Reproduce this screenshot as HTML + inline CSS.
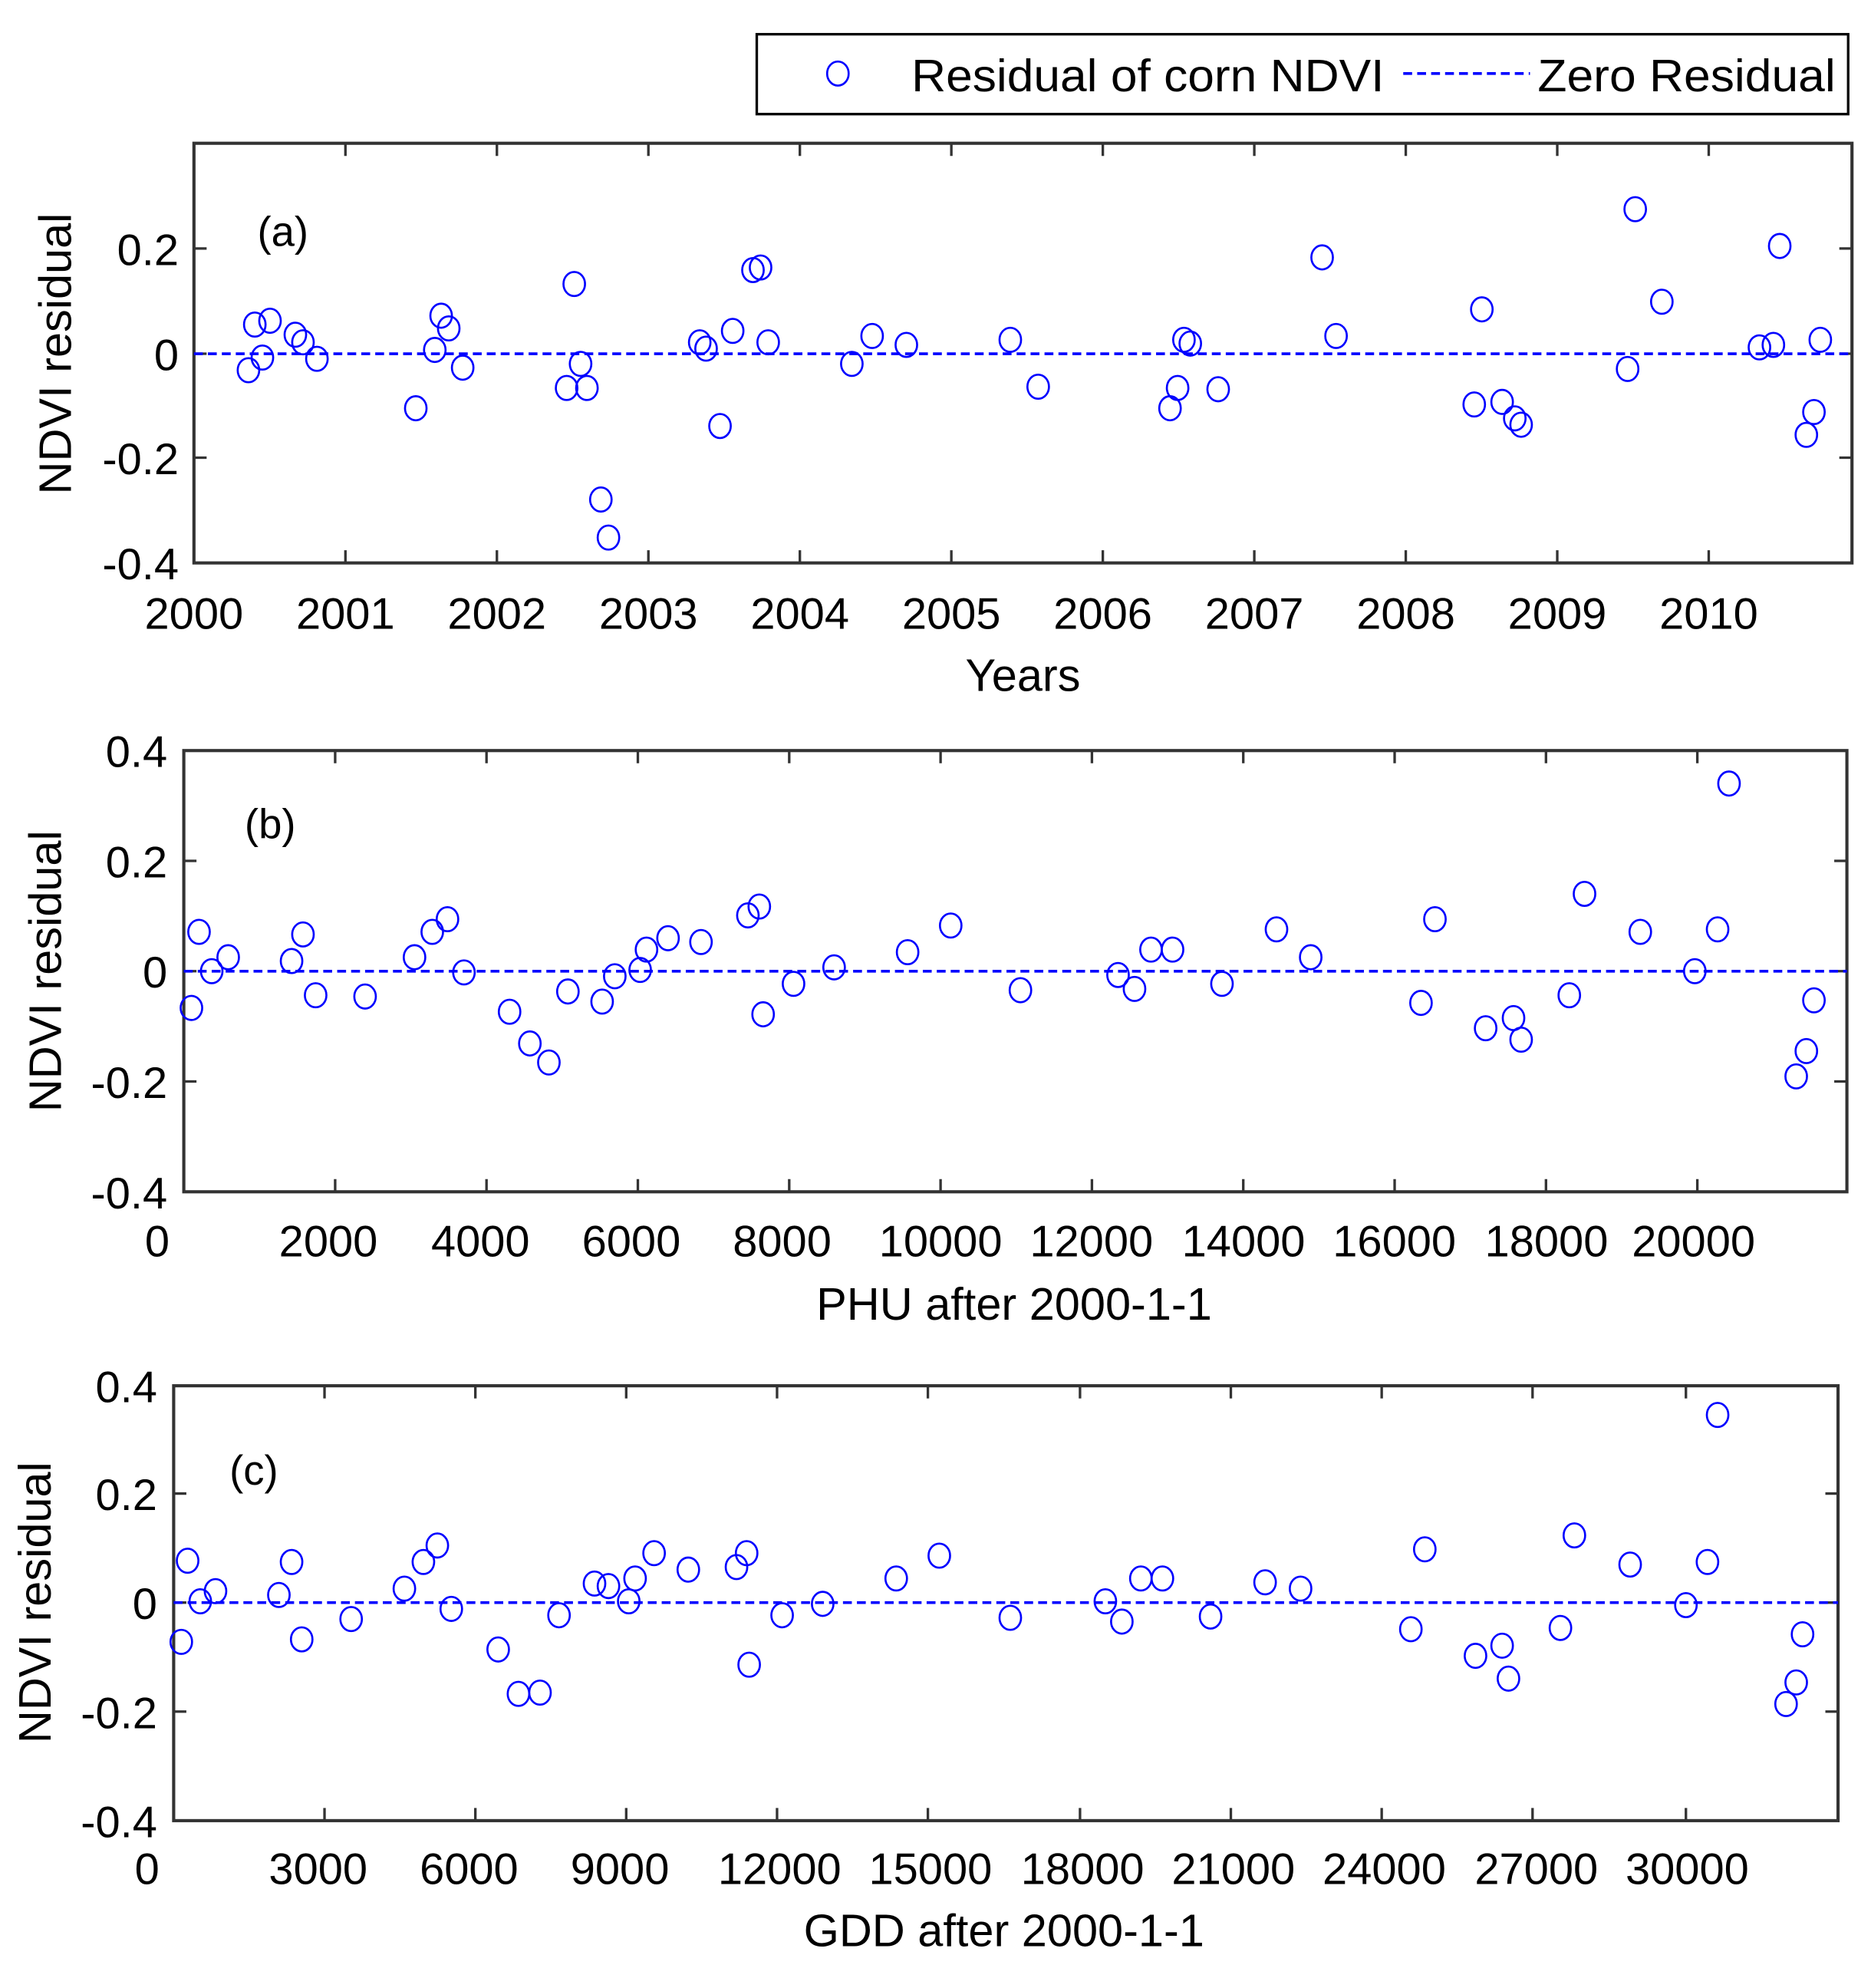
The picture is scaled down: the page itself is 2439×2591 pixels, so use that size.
<!DOCTYPE html>
<html><head><meta charset="utf-8"><style>
html,body{margin:0;padding:0;background:#fff;}
svg{display:block;}
text{font-family:"Liberation Sans",Arial,sans-serif;fill:#000;}
</style></head><body>
<svg width="2439" height="2591" viewBox="0 0 1476 1568" xmlns="http://www.w3.org/2000/svg">
<rect width="1476" height="1568" fill="#fff"/>
<!-- Legend -->
<rect x="597" y="27" width="861" height="63" fill="#fff" stroke="#000" stroke-width="2"/>
<ellipse cx="661" cy="58" rx="8.5" ry="9.5" fill="none" stroke="#0000ff" stroke-width="1.6"/>
<text x="719" y="72" font-size="36" textLength="373" lengthAdjust="spacingAndGlyphs">Residual of corn NDVI</text>
<line x1="1107" y1="58" x2="1207" y2="58" stroke="#0000ff" stroke-width="2.2" stroke-dasharray="7,4"/>
<text x="1213" y="72" font-size="36" textLength="235" lengthAdjust="spacingAndGlyphs">Zero Residual</text>

<g id="pa">
<rect x="153" y="113" width="1308" height="331" fill="none" stroke="#333" stroke-width="2.5"/>
<g stroke="#333" stroke-width="2">
<path d="M272.5 113v10M392 113v10M511.5 113v10M631 113v10M750.5 113v10M870 113v10M989.5 113v10M1109 113v10M1228.5 113v10M1348 113v10"/>
<path d="M272.5 444v-10M392 444v-10M511.5 444v-10M631 444v-10M750.5 444v-10M870 444v-10M989.5 444v-10M1109 444v-10M1228.5 444v-10M1348 444v-10"/>
<path d="M153 196h10M153 279h10M153 361h10M1461 196h-10M1461 279h-10M1461 361h-10"/>
</g>
<g font-size="35" text-anchor="end">
<text x="141" y="209">0.2</text><text x="141" y="292">0</text><text x="141" y="374">-0.2</text><text x="141" y="457">-0.4</text>
</g>
<g font-size="35" text-anchor="middle">
<text x="153" y="496">2000</text><text x="272.5" y="496">2001</text><text x="392" y="496">2002</text><text x="511.5" y="496">2003</text><text x="631" y="496">2004</text><text x="750.5" y="496">2005</text><text x="870" y="496">2006</text><text x="989.5" y="496">2007</text><text x="1109" y="496">2008</text><text x="1228.5" y="496">2009</text><text x="1348" y="496">2010</text>
<text x="807" y="545" font-size="36">Years</text>
</g>
<text x="0" y="0" font-size="36" text-anchor="middle" transform="translate(56,279) rotate(-90)">NDVI residual</text>
<text x="203" y="194" font-size="33">(a)</text>
<line x1="153" y1="279" x2="1461" y2="279" stroke="#0000ff" stroke-width="2.2" stroke-dasharray="7,4"/>
</g>

<g id="pb">
<rect x="145" y="592" width="1312" height="348" fill="none" stroke="#333" stroke-width="2.5"/>
<g stroke="#333" stroke-width="2">
<path d="M264.4 592v10M383.8 592v10M503.2 592v10M622.6 592v10M742 592v10M861.4 592v10M980.8 592v10M1100.2 592v10M1219.6 592v10M1339 592v10"/>
<path d="M264.4 940v-10M383.8 940v-10M503.2 940v-10M622.6 940v-10M742 940v-10M861.4 940v-10M980.8 940v-10M1100.2 940v-10M1219.6 940v-10M1339 940v-10"/>
<path d="M145 679h10M145 766h10M145 853h10M1457 679h-10M1457 766h-10M1457 853h-10"/>
</g>
<g font-size="35" text-anchor="end">
<text x="132" y="605">0.4</text><text x="132" y="692">0.2</text><text x="132" y="779">0</text><text x="132" y="866">-0.2</text><text x="132" y="953">-0.4</text>
</g>
<g font-size="35" text-anchor="middle">
<text x="124" y="991">0</text><text x="259" y="991">2000</text><text x="379" y="991">4000</text><text x="498" y="991">6000</text><text x="617" y="991">8000</text><text x="742" y="991">10000</text><text x="861" y="991">12000</text><text x="981" y="991">14000</text><text x="1100" y="991">16000</text><text x="1220" y="991">18000</text><text x="1336" y="991">20000</text>
<text x="800" y="1041" font-size="36">PHU after 2000-1-1</text>
</g>
<text font-size="36" text-anchor="middle" transform="translate(48,766) rotate(-90)">NDVI residual</text>
<text x="193" y="661" font-size="33">(b)</text>
<line x1="145" y1="766" x2="1457" y2="766" stroke="#0000ff" stroke-width="2.2" stroke-dasharray="7,4"/>
</g>

<g id="pc">
<rect x="137" y="1093" width="1313" height="343" fill="none" stroke="#333" stroke-width="2.5"/>
<g stroke="#333" stroke-width="2">
<path d="M256 1093v10M375 1093v10M494 1093v10M613 1093v10M732 1093v10M852 1093v10M971 1093v10M1090 1093v10M1209 1093v10M1330 1093v10"/>
<path d="M256 1436v-10M375 1436v-10M494 1436v-10M613 1436v-10M732 1436v-10M852 1436v-10M971 1436v-10M1090 1436v-10M1209 1436v-10M1330 1436v-10"/>
<path d="M137 1178h10M137 1264h10M137 1350h10M1450 1178h-10M1450 1264h-10M1450 1350h-10"/>
</g>
<g font-size="35" text-anchor="end">
<text x="124" y="1106">0.4</text><text x="124" y="1191">0.2</text><text x="124" y="1277">0</text><text x="124" y="1363">-0.2</text><text x="124" y="1449">-0.4</text>
</g>
<g font-size="35" text-anchor="middle">
<text x="116" y="1486">0</text><text x="251" y="1486">3000</text><text x="370" y="1486">6000</text><text x="489" y="1486">9000</text><text x="615" y="1486">12000</text><text x="734" y="1486">15000</text><text x="854" y="1486">18000</text><text x="973" y="1486">21000</text><text x="1092" y="1486">24000</text><text x="1212" y="1486">27000</text><text x="1331" y="1486">30000</text>
<text x="792" y="1535" font-size="36">GDD after 2000-1-1</text>
</g>
<text font-size="36" text-anchor="middle" transform="translate(40,1264) rotate(-90)">NDVI residual</text>
<text x="181" y="1171" font-size="33">(c)</text>
<line x1="137" y1="1264" x2="1450" y2="1264" stroke="#0000ff" stroke-width="2.2" stroke-dasharray="7,4"/>
</g>

<g fill="none" stroke="#0000ff" stroke-width="1.6">
<!-- a -->
<ellipse cx="196" cy="292" rx="8.5" ry="9.5"/><ellipse cx="201" cy="256" rx="8.5" ry="9.5"/><ellipse cx="207" cy="282" rx="8.5" ry="9.5"/><ellipse cx="213" cy="253" rx="8.5" ry="9.5"/><ellipse cx="233" cy="264" rx="8.5" ry="9.5"/><ellipse cx="239" cy="270" rx="8.5" ry="9.5"/><ellipse cx="250" cy="283" rx="8.5" ry="9.5"/><ellipse cx="328" cy="322" rx="8.5" ry="9.5"/><ellipse cx="343" cy="276" rx="8.5" ry="9.5"/><ellipse cx="348" cy="249" rx="8.5" ry="9.5"/><ellipse cx="354" cy="259" rx="8.5" ry="9.5"/><ellipse cx="365" cy="290" rx="8.5" ry="9.5"/><ellipse cx="447" cy="306" rx="8.5" ry="9.5"/><ellipse cx="453" cy="224" rx="8.5" ry="9.5"/><ellipse cx="458" cy="287" rx="8.5" ry="9.5"/><ellipse cx="463" cy="306" rx="8.5" ry="9.5"/><ellipse cx="474" cy="394" rx="8.5" ry="9.5"/><ellipse cx="480" cy="424" rx="8.5" ry="9.5"/><ellipse cx="552" cy="270" rx="8.5" ry="9.5"/><ellipse cx="557" cy="275" rx="8.5" ry="9.5"/><ellipse cx="568" cy="336" rx="8.5" ry="9.5"/><ellipse cx="578" cy="261" rx="8.5" ry="9.5"/><ellipse cx="594" cy="213" rx="8.5" ry="9.5"/><ellipse cx="600" cy="211" rx="8.5" ry="9.5"/><ellipse cx="606" cy="270" rx="8.5" ry="9.5"/><ellipse cx="672" cy="287" rx="8.5" ry="9.5"/><ellipse cx="688" cy="265" rx="8.5" ry="9.5"/><ellipse cx="715" cy="272" rx="8.5" ry="9.5"/><ellipse cx="797" cy="268" rx="8.5" ry="9.5"/><ellipse cx="819" cy="305" rx="8.5" ry="9.5"/><ellipse cx="923" cy="322" rx="8.5" ry="9.5"/><ellipse cx="929" cy="306" rx="8.5" ry="9.5"/><ellipse cx="934" cy="268" rx="8.5" ry="9.5"/><ellipse cx="939" cy="271" rx="8.5" ry="9.5"/><ellipse cx="961" cy="307" rx="8.5" ry="9.5"/><ellipse cx="1043" cy="203" rx="8.5" ry="9.5"/><ellipse cx="1054" cy="265" rx="8.5" ry="9.5"/><ellipse cx="1163" cy="319" rx="8.5" ry="9.5"/><ellipse cx="1169" cy="244" rx="8.5" ry="9.5"/><ellipse cx="1185" cy="317" rx="8.5" ry="9.5"/><ellipse cx="1195" cy="330" rx="8.5" ry="9.5"/><ellipse cx="1200" cy="335" rx="8.5" ry="9.5"/><ellipse cx="1284" cy="291" rx="8.5" ry="9.5"/><ellipse cx="1290" cy="165" rx="8.5" ry="9.5"/><ellipse cx="1311" cy="238" rx="8.5" ry="9.5"/><ellipse cx="1388" cy="274" rx="8.5" ry="9.5"/><ellipse cx="1399" cy="272" rx="8.5" ry="9.5"/><ellipse cx="1404" cy="194" rx="8.5" ry="9.5"/><ellipse cx="1431" cy="325" rx="8.5" ry="9.5"/><ellipse cx="1425" cy="343" rx="8.5" ry="9.5"/><ellipse cx="1436" cy="268" rx="8.5" ry="9.5"/>
<!-- b -->
<ellipse cx="151" cy="795" rx="8.5" ry="9.5"/><ellipse cx="157" cy="735" rx="8.5" ry="9.5"/><ellipse cx="167" cy="766" rx="8.5" ry="9.5"/><ellipse cx="180" cy="755" rx="8.5" ry="9.5"/><ellipse cx="230" cy="758" rx="8.5" ry="9.5"/><ellipse cx="239" cy="737" rx="8.5" ry="9.5"/><ellipse cx="249" cy="785" rx="8.5" ry="9.5"/><ellipse cx="288" cy="786" rx="8.5" ry="9.5"/><ellipse cx="327" cy="755" rx="8.5" ry="9.5"/><ellipse cx="341" cy="735" rx="8.5" ry="9.5"/><ellipse cx="353" cy="725" rx="8.5" ry="9.5"/><ellipse cx="366" cy="767" rx="8.5" ry="9.5"/><ellipse cx="402" cy="798" rx="8.5" ry="9.5"/><ellipse cx="418" cy="823" rx="8.5" ry="9.5"/><ellipse cx="433" cy="838" rx="8.5" ry="9.5"/><ellipse cx="448" cy="782" rx="8.5" ry="9.5"/><ellipse cx="475" cy="790" rx="8.5" ry="9.5"/><ellipse cx="485" cy="770" rx="8.5" ry="9.5"/><ellipse cx="505" cy="765" rx="8.5" ry="9.5"/><ellipse cx="510" cy="749" rx="8.5" ry="9.5"/><ellipse cx="527" cy="740" rx="8.5" ry="9.5"/><ellipse cx="553" cy="743" rx="8.5" ry="9.5"/><ellipse cx="590" cy="722" rx="8.5" ry="9.5"/><ellipse cx="599" cy="715" rx="8.5" ry="9.5"/><ellipse cx="602" cy="800" rx="8.5" ry="9.5"/><ellipse cx="626" cy="776" rx="8.5" ry="9.5"/><ellipse cx="658" cy="763" rx="8.5" ry="9.5"/><ellipse cx="716" cy="751" rx="8.5" ry="9.5"/><ellipse cx="750" cy="730" rx="8.5" ry="9.5"/><ellipse cx="805" cy="781" rx="8.5" ry="9.5"/><ellipse cx="882" cy="769" rx="8.5" ry="9.5"/><ellipse cx="895" cy="780" rx="8.5" ry="9.5"/><ellipse cx="908" cy="749" rx="8.5" ry="9.5"/><ellipse cx="925" cy="749" rx="8.5" ry="9.5"/><ellipse cx="964" cy="776" rx="8.5" ry="9.5"/><ellipse cx="1007" cy="733" rx="8.5" ry="9.5"/><ellipse cx="1034" cy="755" rx="8.5" ry="9.5"/><ellipse cx="1121" cy="791" rx="8.5" ry="9.5"/><ellipse cx="1132" cy="725" rx="8.5" ry="9.5"/><ellipse cx="1172" cy="811" rx="8.5" ry="9.5"/><ellipse cx="1194" cy="803" rx="8.5" ry="9.5"/><ellipse cx="1200" cy="820" rx="8.5" ry="9.5"/><ellipse cx="1238" cy="785" rx="8.5" ry="9.5"/><ellipse cx="1250" cy="705" rx="8.5" ry="9.5"/><ellipse cx="1294" cy="735" rx="8.5" ry="9.5"/><ellipse cx="1337" cy="766" rx="8.5" ry="9.5"/><ellipse cx="1355" cy="733" rx="8.5" ry="9.5"/><ellipse cx="1364" cy="618" rx="8.5" ry="9.5"/><ellipse cx="1417" cy="849" rx="8.5" ry="9.5"/><ellipse cx="1425" cy="829" rx="8.5" ry="9.5"/><ellipse cx="1431" cy="789" rx="8.5" ry="9.5"/>
<!-- c -->
<ellipse cx="143" cy="1295" rx="8.5" ry="9.5"/><ellipse cx="148" cy="1231" rx="8.5" ry="9.5"/><ellipse cx="158" cy="1263" rx="8.5" ry="9.5"/><ellipse cx="170" cy="1255" rx="8.5" ry="9.5"/><ellipse cx="220" cy="1258" rx="8.5" ry="9.5"/><ellipse cx="230" cy="1232" rx="8.5" ry="9.5"/><ellipse cx="238" cy="1293" rx="8.5" ry="9.5"/><ellipse cx="277" cy="1277" rx="8.5" ry="9.5"/><ellipse cx="319" cy="1253" rx="8.5" ry="9.5"/><ellipse cx="334" cy="1232" rx="8.5" ry="9.5"/><ellipse cx="345" cy="1219" rx="8.5" ry="9.5"/><ellipse cx="356" cy="1269" rx="8.5" ry="9.5"/><ellipse cx="393" cy="1301" rx="8.5" ry="9.5"/><ellipse cx="409" cy="1336" rx="8.5" ry="9.5"/><ellipse cx="426" cy="1335" rx="8.5" ry="9.5"/><ellipse cx="441" cy="1274" rx="8.5" ry="9.5"/><ellipse cx="469" cy="1249" rx="8.5" ry="9.5"/><ellipse cx="480" cy="1251" rx="8.5" ry="9.5"/><ellipse cx="496" cy="1263" rx="8.5" ry="9.5"/><ellipse cx="501" cy="1245" rx="8.5" ry="9.5"/><ellipse cx="516" cy="1225" rx="8.5" ry="9.5"/><ellipse cx="543" cy="1238" rx="8.5" ry="9.5"/><ellipse cx="581" cy="1236" rx="8.5" ry="9.5"/><ellipse cx="589" cy="1225" rx="8.5" ry="9.5"/><ellipse cx="591" cy="1313" rx="8.5" ry="9.5"/><ellipse cx="617" cy="1274" rx="8.5" ry="9.5"/><ellipse cx="649" cy="1265" rx="8.5" ry="9.5"/><ellipse cx="707" cy="1245" rx="8.5" ry="9.5"/><ellipse cx="741" cy="1227" rx="8.5" ry="9.5"/><ellipse cx="797" cy="1276" rx="8.5" ry="9.5"/><ellipse cx="872" cy="1263" rx="8.5" ry="9.5"/><ellipse cx="885" cy="1279" rx="8.5" ry="9.5"/><ellipse cx="900" cy="1245" rx="8.5" ry="9.5"/><ellipse cx="917" cy="1245" rx="8.5" ry="9.5"/><ellipse cx="955" cy="1275" rx="8.5" ry="9.5"/><ellipse cx="998" cy="1248" rx="8.5" ry="9.5"/><ellipse cx="1026" cy="1253" rx="8.5" ry="9.5"/><ellipse cx="1113" cy="1285" rx="8.5" ry="9.5"/><ellipse cx="1124" cy="1222" rx="8.5" ry="9.5"/><ellipse cx="1164" cy="1306" rx="8.5" ry="9.5"/><ellipse cx="1185" cy="1298" rx="8.5" ry="9.5"/><ellipse cx="1190" cy="1324" rx="8.5" ry="9.5"/><ellipse cx="1231" cy="1284" rx="8.5" ry="9.5"/><ellipse cx="1242" cy="1211" rx="8.5" ry="9.5"/><ellipse cx="1286" cy="1234" rx="8.5" ry="9.5"/><ellipse cx="1330" cy="1266" rx="8.5" ry="9.5"/><ellipse cx="1347" cy="1232" rx="8.5" ry="9.5"/><ellipse cx="1355" cy="1116" rx="8.5" ry="9.5"/><ellipse cx="1409" cy="1344" rx="8.5" ry="9.5"/><ellipse cx="1417" cy="1327" rx="8.5" ry="9.5"/><ellipse cx="1422" cy="1289" rx="8.5" ry="9.5"/>
</g>
</svg>
</body></html>
